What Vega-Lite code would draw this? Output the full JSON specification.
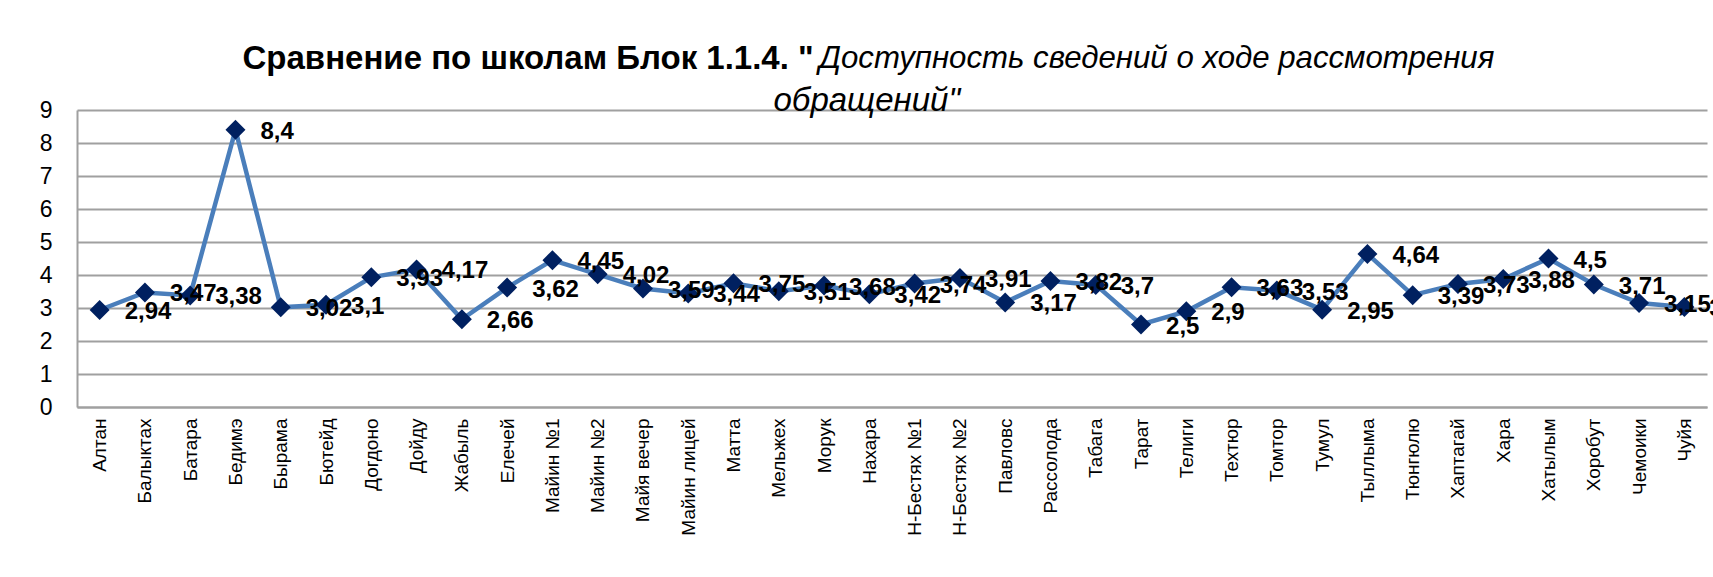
{
  "$schema": "https://vega.github.io/schema/vega-lite/v6.json",
  "autosize": {"type": "none"},
  "width": 1630,
  "height": 297,
  "padding": {"left": 77, "top": 110, "right": 6, "bottom": 170},
  "background": "white",
  "title": {
    "text": "Доступность сведений о ходе рассмотрения",
    "anchor": "start",
    "frame": "group",
    "dx": 742,
    "offset": -57,
    "font": "Liberation Sans",
    "fontSize": 31.2,
    "fontStyle": "italic",
    "fontWeight": "normal",
    "color": "black",
    "baseline": "alphabetic"
  },
  "data": {
    "values": [
      {"school": "Алтан", "value": 2.94, "label": "2,94"},
      {"school": "Балыктах", "value": 3.47, "label": "3,47"},
      {"school": "Батара", "value": 3.38, "label": "3,38"},
      {"school": "Бедимэ", "value": 8.4, "label": "8,4"},
      {"school": "Бырама", "value": 3.02, "label": "3,02"},
      {"school": "Бютейд", "value": 3.1, "label": "3,1"},
      {"school": "Догдоно", "value": 3.93, "label": "3,93"},
      {"school": "Дойду", "value": 4.17, "label": "4,17"},
      {"school": "Жабыль", "value": 2.66, "label": "2,66"},
      {"school": "Елечей", "value": 3.62, "label": "3,62"},
      {"school": "Майин №1", "value": 4.45, "label": "4,45"},
      {"school": "Майин №2", "value": 4.02, "label": "4,02"},
      {"school": "Майя вечер", "value": 3.59, "label": "3,59"},
      {"school": "Майин лицей", "value": 3.44, "label": "3,44"},
      {"school": "Матта", "value": 3.75, "label": "3,75"},
      {"school": "Мельжех", "value": 3.51, "label": "3,51"},
      {"school": "Морук", "value": 3.68, "label": "3,68"},
      {"school": "Нахара", "value": 3.42, "label": "3,42"},
      {"school": "Н-Бестях №1", "value": 3.74, "label": "3,74"},
      {"school": "Н-Бестях №2", "value": 3.91, "label": "3,91"},
      {"school": "Павловс", "value": 3.17, "label": "3,17"},
      {"school": "Рассолода", "value": 3.82, "label": "3,82"},
      {"school": "Табага", "value": 3.7, "label": "3,7"},
      {"school": "Тарат", "value": 2.5, "label": "2,5"},
      {"school": "Телиги", "value": 2.9, "label": "2,9"},
      {"school": "Техтюр", "value": 3.63, "label": "3,63"},
      {"school": "Томтор", "value": 3.53, "label": "3,53"},
      {"school": "Тумул", "value": 2.95, "label": "2,95"},
      {"school": "Тыллыма", "value": 4.64, "label": "4,64"},
      {"school": "Тюнгюлю", "value": 3.39, "label": "3,39"},
      {"school": "Хаптагай", "value": 3.73, "label": "3,73"},
      {"school": "Хара", "value": 3.88, "label": "3,88"},
      {"school": "Хатылым", "value": 4.5, "label": "4,5"},
      {"school": "Хоробут", "value": 3.71, "label": "3,71"},
      {"school": "Чемоики", "value": 3.15, "label": "3,15"},
      {"school": "Чуйя", "value": 3.03, "label": "3,03"}
    ]
  },
  "encoding": {
    "x": {
      "field": "school",
      "type": "nominal",
      "sort": null,
      "scale": {"type": "point", "padding": 0.5},
      "axis": {
        "title": "Сравнение по школам Блок 1.1.4. \"",
        "titleX": 165,
        "titleY": -339,
        "titleAlign": "left",
        "titleBaseline": "alphabetic",
        "titleFont": "Liberation Sans",
        "titleFontSize": 33,
        "titleFontWeight": "bold",
        "titleColor": "black",
        "labelAngle": -90,
        "labelAlign": "right",
        "labelBaseline": "middle",
        "labelFont": "Liberation Sans",
        "labelFontSize": 19,
        "labelColor": "black",
        "labelPadding": 11,
        "labelOverlap": false,
        "ticks": false,
        "tickSize": 0,
        "domainColor": "#A0A0A0",
        "domainWidth": 2,
        "grid": false
      }
    },
    "y": {
      "field": "value",
      "type": "quantitative",
      "scale": {"domain": [0, 9], "nice": false},
      "axis": {
        "values": [0, 1, 2, 3, 4, 5, 6, 7, 8, 9],
        "grid": true,
        "gridColor": "#A0A0A0",
        "gridWidth": 2,
        "domainColor": "#A0A0A0",
        "domainWidth": 2,
        "ticks": false,
        "tickSize": 0,
        "labelPadding": 25,
        "labelFont": "Liberation Sans",
        "labelFontSize": 23,
        "labelColor": "black",
        "title": "обращений\"",
        "titleAngle": 0,
        "titleX": 696,
        "titleY": 0,
        "titleAlign": "left",
        "titleBaseline": "alphabetic",
        "titleFont": "Liberation Sans",
        "titleFontSize": 33,
        "titleFontStyle": "italic",
        "titleFontWeight": "normal",
        "titleColor": "black"
      }
    }
  },
  "layer": [
    {"mark": {"type": "line", "color": "#4A7EBB", "strokeWidth": 4.5}},
    {"mark": {"type": "point", "shape": "diamond", "filled": true, "size": 400, "color": "#002060", "opacity": 1}},
    {
      "mark": {"type": "text", "align": "left", "baseline": "middle", "dx": 25, "dy": 2, "font": "Liberation Sans", "fontSize": 24, "fontWeight": "bold", "color": "black"},
      "encoding": {"text": {"field": "label"}}
    }
  ],
  "config": {"view": {"stroke": null}}
}
